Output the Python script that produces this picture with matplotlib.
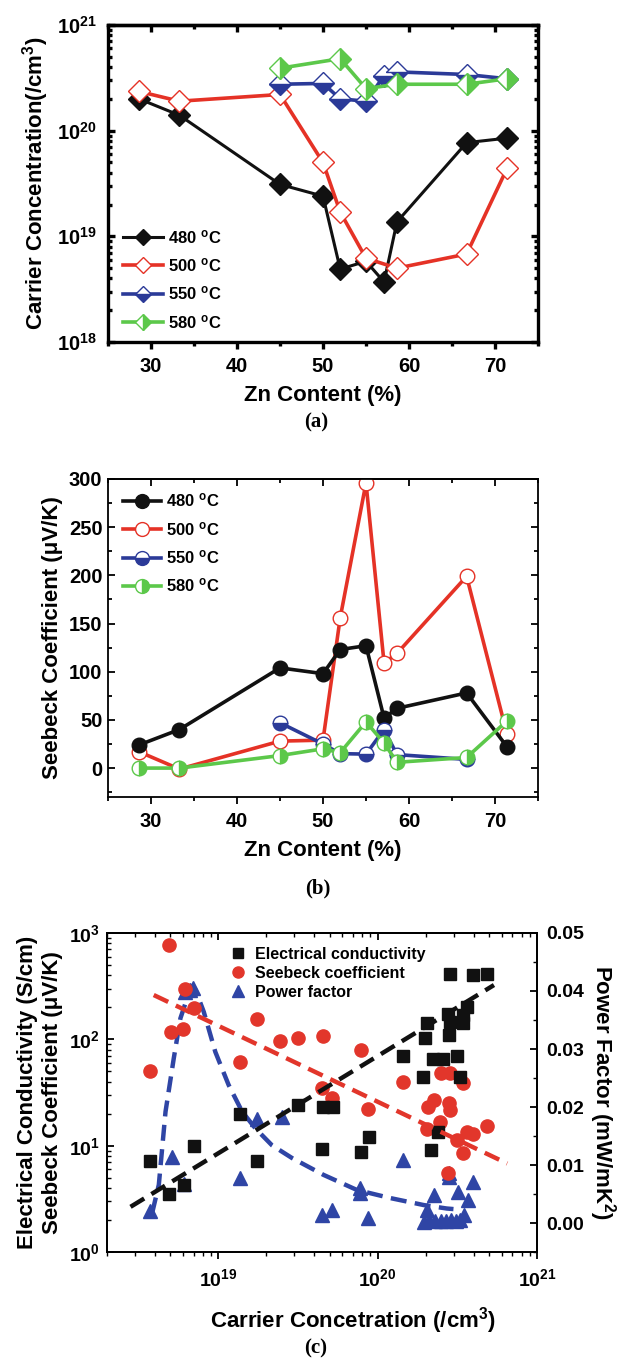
import matplotlib
matplotlib.use("Agg")
import matplotlib.pyplot as plt
from matplotlib.lines import Line2D
from matplotlib.ticker import MultipleLocator, LogLocator, NullFormatter, FixedLocator

plt.rcParams.update({
    "font.family": ["Liberation Sans", "DejaVu Sans"],
    "font.weight": "bold",
    "axes.labelweight": "bold",
    "mathtext.fontset": "custom",
    "mathtext.rm": "Liberation Sans:bold",
    "mathtext.it": "Liberation Sans:bold",
    "mathtext.bf": "Liberation Sans:bold",
    "mathtext.default": "rm",
})

BLACK = "#111111"
RED = "#e53226"
BLUE = "#2b3a98"
GREEN = "#5cc84a"

# ---- (a) carrier concentration vs Zn content
zn = [28.6, 33.3, 45, 50, 52, 55, 57.1, 58.6, 66.7, 71.4]
n_480 = [2.0e20, 1.4e20, 3.1e19, 2.4e19, 4.9e18, 5.8e18, 3.7e18, 1.37e19, 7.7e19, 8.5e19]
zn_500a = [28.6, 33.3, 45, 50, 52, 55, 58.6, 66.7, 71.4]
n_500 = [2.35e20, 1.9e20, 2.2e20, 5.0e19, 1.7e19, 6.2e18, 5.0e18, 6.8e18, 4.4e19]
zn_550a = [45, 50, 52, 55, 57.1, 58.6, 66.7, 71.4]
n_550 = [2.75e20, 2.8e20, 2.0e20, 1.9e20, 3.3e20, 3.6e20, 3.4e20, 3.1e20]
zn_580a = [45, 52, 55, 58.6, 66.7, 71.4]
n_580 = [3.9e20, 4.8e20, 2.5e20, 2.75e20, 2.75e20, 3.1e20]

# ---- (b) Seebeck coefficient vs Zn content
s_480 = [24, 40, 104, 98, 123, 127, 52, 62, 78, 22]
s_500 = [17, -1, 28, 29, 156, 296, 109, 119, 199, 35]
zn_550b = [45, 50, 52, 55, 57.1, 58.6, 66.7]
s_550 = [47, 25, 15, 14.5, 40, 14, 9]
s_580 = [0, 0, 13, 20, 16, 48, 26, 6, 11, 49]

temps = ["480", "500", "550", "580"]

# ---- (c) properties vs carrier concentration
sig_n = [3.71e18, 4.88e18, 6.1e18, 7.0e18, 1.37e19, 1.75e19, 3.16e19, 4.5e19, 4.57e19,
         5.24e19, 7.85e19, 8.77e19, 1.44e20, 1.92e20, 1.99e20, 2.05e20, 2.15e20, 2.24e20,
         2.4e20, 2.56e20, 2.78e20, 2.82e20, 2.85e20, 2.85e20, 3.14e20, 3.29e20, 3.42e20,
         3.45e20, 3.66e20, 3.95e20, 4.83e20]
sig = [7.1, 3.5, 4.3, 10.0, 19.7, 7.2, 24, 9.4, 23, 23, 8.8, 12.1, 69, 44, 102, 141, 9.1, 66,
       13.5, 66, 172, 110, 147, 409, 70, 44.5, 141, 169, 203, 403, 409]

see_n = [3.75e18, 4.88e18, 5.07e18, 5.97e18, 6.15e18, 7.0e18, 1.37e19, 1.75e19, 2.45e19,
         3.16e19, 4.57e19, 4.47e19, 5.16e19, 7.85e19, 8.7e19, 1.44e20, 2.03e20, 2.08e20,
         2.26e20, 2.47e20, 2.5e20, 2.85e20, 2.82e20, 2.86e20, 2.78e20, 3.44e20, 3.14e20,
         3.44e20, 3.62e20, 3.95e20, 4.88e20]
see = [50, 770, 118, 125, 297, 195, 61, 154, 96, 102, 108, 35, 28, 79, 22, 40, 14.3, 23,
       27, 16.8, 48, 48, 25, 21.6, 5.5, 38.6, 11.3, 8.5, 13.5, 12.8, 15.4]

pf_n = [3.75e18, 5.13e18, 6.06e18, 6.15e18, 6.6e18, 6.9e18, 1.37e19, 1.75e19, 2.51e19,
        4.47e19, 5.16e19, 7.7e19, 7.7e19, 8.7e19, 1.44e20, 1.94e20, 2.03e20, 2.1e20, 2.26e20,
        2.3e20, 2.5e20, 2.7e20, 2.82e20, 2.82e20, 2.9e20, 3.1e20, 3.21e20, 3.3e20, 3.47e20,
        3.7e20, 3.95e20]
pf = [0.0020, 0.0113, 0.0068, 0.0399, 0.0401, 0.0405, 0.0077, 0.0180, 0.0183, 0.0014,
      0.0022, 0.0052, 0.0060, 0.0008, 0.0109, 0.0002, 0.0022, 0.0005, 0.0049, 0.0003,
      0.0004, 0.0003, 0.0086, 0.0080, 0.0005, 0.0003, 0.0054, 0.0006, 0.0014, 0.0040, 0.0070]

# trend lines
sig_fit_n = [2.81e18, 5.37e20]
sig_fit = [2.66, 324]
see_fit_n = [3.93e18, 6.5e20]
see_fit = [261, 6.8]
pf_fit_n = [3.84e18, 4.23e18, 4.66e18, 5.25e18, 5.78e18, 6.52e18, 7.18e18, 8.1e18, 9.57e18,
            1.16e19, 1.41e19, 1.71e19, 2.17e19, 2.9e19, 4.57e19, 7.4e19, 1.2e20, 1.94e20,
            2.71e20, 2.99e20]
pf_fit = [0.0017, 0.0066, 0.0192, 0.0284, 0.0353, 0.0396, 0.0402, 0.0364, 0.0295, 0.0238,
          0.0192, 0.0163, 0.0134, 0.0112, 0.0083, 0.0057, 0.0043, 0.0031, 0.0025, 0.0024]

W, H = 626, 1359
fig = plt.figure(figsize=(W / 100, H / 100), dpi=100)


def px_axes(l, t, r, b):
    return fig.add_axes([l / W, 1 - b / H, (r - l) / W, (b - t) / H])


def zn_axis(ax, lw):
    ax.set_xlim(25, 75)
    ax.xaxis.set_major_locator(MultipleLocator(10))
    ax.xaxis.set_minor_locator(MultipleLocator(5))
    ax.tick_params(axis="x", which="major", direction="out", length=5, width=lw, labelsize=14.5, pad=6)
    ax.tick_params(axis="x", which="minor", direction="out", length=3, width=lw)
    ax.tick_params(axis="y", which="major", direction="in", right=True, length=5, width=lw, labelsize=14.5)
    ax.tick_params(axis="y", which="minor", direction="in", right=True, length=3, width=lw)
    top = ax.secondary_xaxis("top")
    top.xaxis.set_major_locator(MultipleLocator(10))
    top.xaxis.set_minor_locator(MultipleLocator(5))
    top.tick_params(which="major", direction="in", length=5, width=lw, labeltop=False)
    top.tick_params(which="minor", direction="in", length=3, width=lw)
    top.spines["top"].set_linewidth(lw)
    for s in ax.spines.values():
        s.set_linewidth(lw)
    ax.set_xlabel("Zn Content (%)", fontsize=16, labelpad=6)


deg = " $^{o}$C"

# ---------------- (a)
ax = px_axes(108, 25, 538, 342)
ax.set_yscale("log")
ax.set_ylim(1e18, 1e21)
ax.plot(zn, n_480, "-D", color=BLACK, lw=2.2, ms=11, mfc=BLACK, mec=BLACK, label=temps[0] + deg)
ax.plot(zn_500a, n_500, "-D", color=RED, lw=2.6, ms=11, mfc="white", mec=RED, mew=1, label=temps[1] + deg)
ax.plot(zn_550a, n_550, "-D", color=BLUE, lw=2.6, ms=11, mfc=BLUE, mfcalt="white", mec=BLUE,
        mew=1, fillstyle="bottom", label=temps[2] + deg)
ax.plot(zn_580a, n_580, "-D", color=GREEN, lw=2.6, ms=11, mfc=GREEN, mfcalt="white", mec=GREEN,
        mew=1, fillstyle="right", label=temps[3] + deg)
ax.yaxis.set_major_locator(FixedLocator([1e18, 1e19, 1e20, 1e21]))
ax.set_yticklabels(["$10^{18}$", "$10^{19}$", "$10^{20}$", "$10^{21}$"])
ax.yaxis.set_minor_locator(LogLocator(base=10, subs=range(2, 10)))
ax.yaxis.set_minor_formatter(NullFormatter())
zn_axis(ax, 2.4)
ax.tick_params(axis="y", which="major", pad=8)
ax.set_ylabel("Carrier Concentration(/cm$^3$)", fontsize=16)
ax.legend(loc="upper left", bbox_to_anchor=(0.035, 0.36), frameon=False, fontsize=12,
          handlelength=2.4, handletextpad=0.3, labelspacing=0.62, borderpad=0, markerscale=0.75,
          borderaxespad=0)
fig.text(316 / W, 1 - 422 / H, "(a)", family="Liberation Serif", weight="bold", fontsize=15,
         ha="center", va="center")

# ---------------- (b)
ax = px_axes(108, 479, 538, 797)
ax.set_ylim(-30, 300)
ax.plot(zn, s_500, "-o", color=RED, lw=2.6, ms=10.5, mfc="white", mec=RED, mew=1, zorder=2)
ax.plot(zn, s_480, "-o", color=BLACK, lw=2.6, ms=10.5, mfc=BLACK, mec=BLACK, zorder=3)
ax.plot(zn_550b, s_550, "-o", color=BLUE, lw=2.6, ms=10.5, mfc=BLUE, mfcalt="white", mec=BLUE,
        mew=1, fillstyle="bottom", zorder=4)
ax.plot(zn, s_580, "-o", color=GREEN, lw=2.6, ms=10.5, mfc=GREEN, mfcalt="white", mec=GREEN,
        mew=1, fillstyle="right", zorder=5)
ax.yaxis.set_major_locator(MultipleLocator(50))
ax.yaxis.set_minor_locator(MultipleLocator(25))
zn_axis(ax, 1.3)
ax.tick_params(axis="y", which="major", pad=4)
ax.set_ylabel("Seebeck Coefficient (\u03bcV/K)", fontsize=16)
hb = [Line2D([], [], color=BLACK, lw=2.6, marker="o", ms=10.5, mfc=BLACK, mec=BLACK),
      Line2D([], [], color=RED, lw=2.6, marker="o", ms=10.5, mfc="white", mec=RED),
      Line2D([], [], color=BLUE, lw=2.6, marker="o", ms=10.5, mfc=BLUE, mfcalt="white",
             mec=BLUE, fillstyle="bottom"),
      Line2D([], [], color=GREEN, lw=2.6, marker="o", ms=10.5, mfc=GREEN, mfcalt="white",
             mec=GREEN, fillstyle="right")]
ax.legend(hb, [t + deg for t in temps], loc="upper left", bbox_to_anchor=(0.035, 0.96),
          frameon=False, fontsize=12, handlelength=2.3, handletextpad=0.3, labelspacing=0.62,
          borderpad=0, markerscale=0.95, borderaxespad=0)
fig.text(318 / W, 1 - 888 / H, "(b)", family="Liberation Serif", weight="bold", fontsize=15,
         ha="center", va="center")

# ---------------- (c)
ax = px_axes(107, 933, 537, 1252)
ax2 = ax.twinx()
ax.set_xscale("log")
ax.set_yscale("log")
ax.set_xlim(2e18, 1e21)
ax.set_ylim(1, 1e3)
ax.plot(sig_n, sig, "s", color=BLACK, ms=8.5, ls="none", zorder=3)
ax.plot(see_n, see, "o", color="#e2362b", ms=9.5, ls="none", zorder=2)
ax.plot(sig_fit_n, sig_fit, "--", color=BLACK, lw=3.2, dashes=(3.6, 1.9), zorder=4)
ax.plot(see_fit_n, see_fit, "--", color="#e2362b", lw=3.2, dashes=(3.6, 1.9), zorder=4)
ax2.set_ylim(-0.005, 0.05)
ax2.plot(pf_n, pf, "^", color="#2f45a5", ms=9.5, ls="none")
ax2.plot(pf_fit_n, pf_fit, "--", color="#2f45a5", lw=3.2, dashes=(3.6, 1.9))
ax.set_zorder(ax2.get_zorder() + 1)
ax.patch.set_visible(False)

ax.xaxis.set_major_locator(FixedLocator([1e19, 1e20, 1e21]))
ax.set_xticklabels(["$10^{19}$", "$10^{20}$", "$10^{21}$"])
ax.xaxis.set_minor_locator(LogLocator(base=10, subs=range(2, 10)))
ax.xaxis.set_minor_formatter(NullFormatter())
ax.yaxis.set_major_locator(FixedLocator([1, 10, 100, 1000]))
ax.set_yticklabels(["$10^{0}$", "$10^{1}$", "$10^{2}$", "$10^{3}$"])
ax.yaxis.set_minor_locator(LogLocator(base=10, subs=range(2, 10)))
ax.yaxis.set_minor_formatter(NullFormatter())
ax.tick_params(axis="x", which="major", direction="out", length=5, width=1.3, labelsize=14, pad=7)
ax.tick_params(axis="x", which="minor", direction="out", length=3, width=1.0)
ax.tick_params(axis="y", which="major", direction="in", length=5, width=1.3, labelsize=14, pad=5)
ax.tick_params(axis="y", which="minor", direction="in", length=3, width=1.0)
top = ax.secondary_xaxis("top")
top.xaxis.set_major_locator(FixedLocator([1e19, 1e20, 1e21]))
top.xaxis.set_minor_locator(LogLocator(base=10, subs=range(2, 10)))
top.tick_params(which="major", direction="in", length=5, width=1.3, labeltop=False)
top.tick_params(which="minor", direction="in", length=3, width=1.0, labeltop=False)
ax2.yaxis.set_major_locator(FixedLocator([0, 0.01, 0.02, 0.03, 0.04, 0.05]))
ax2.set_yticklabels(["0.00", "0.01", "0.02", "0.03", "0.04", "0.05"])
ax2.yaxis.set_minor_locator(MultipleLocator(0.005))
ax2.tick_params(axis="y", which="major", direction="in", length=5, width=1.3, labelsize=14, pad=7)
ax2.tick_params(axis="y", which="minor", direction="in", length=3, width=1.0)
for a in (ax, ax2):
    for s in a.spines.values():
        s.set_linewidth(1.3)
top.spines["top"].set_linewidth(1.3)

ax.set_ylabel("Electrical Conductivity (S/cm)\nSeebeck Coefficient (\u03bcV/K)", fontsize=16,
              linespacing=1.3)
ax.set_xlabel("Carrier Concetration (/cm$^3$)", fontsize=16)
ax.xaxis.set_label_coords((353 - 107) / 430, -0.165)
ax2.set_ylabel("Power Factor (mW/mK$^2$)", fontsize=16, rotation=270, labelpad=24)

hc = [Line2D([], [], ls="none", marker="s", color=BLACK, ms=7),
      Line2D([], [], ls="none", marker="o", color="#e2362b", ms=8),
      Line2D([], [], ls="none", marker="^", color="#2f45a5", ms=8)]
ax.legend(hc, ["Electrical conductivity", "Seebeck coefficient", "Power factor"],
          loc="upper left", bbox_to_anchor=(0.286, 0.956), frameon=False, fontsize=11.5,
          handlelength=1.0, handletextpad=0.55, labelspacing=0.25, borderpad=0, borderaxespad=0)
fig.text(316 / W, 1 - 1348 / H, "(c)", family="Liberation Serif", weight="bold", fontsize=15,
         ha="center", va="center")

fig.savefig("out.png", dpi=100)
